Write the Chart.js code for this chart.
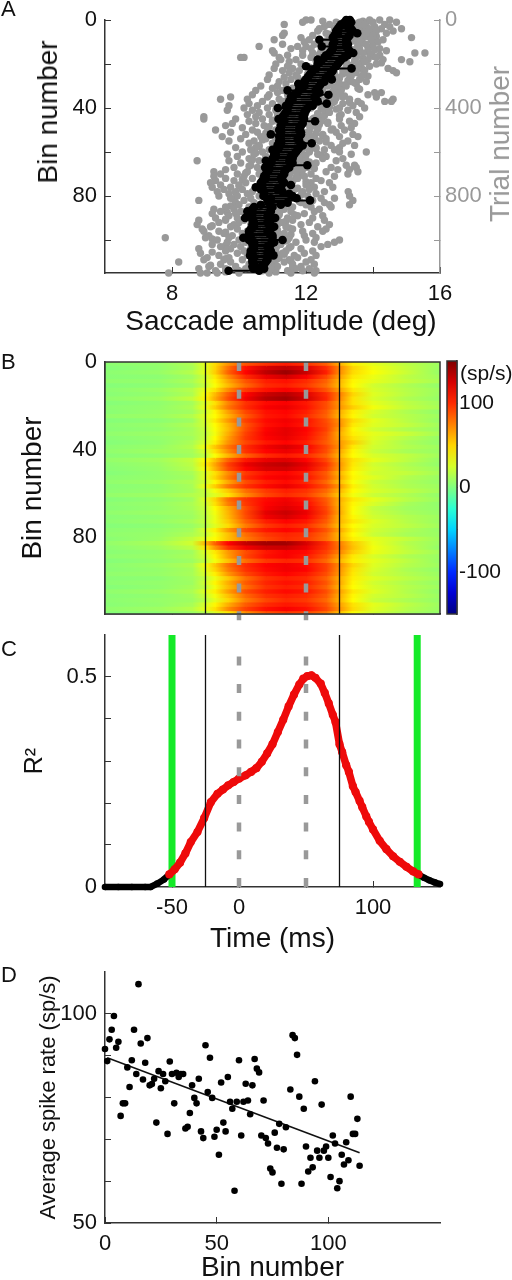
<!DOCTYPE html>
<html>
<head>
<meta charset="utf-8">
<title>Saccade amplitude and spike rate</title>
<script src="https://cdn.jsdelivr.net/npm/chart.js@4"></script>
<style>
  html,body{margin:0;background:#fff;width:512px;height:1280px;overflow:hidden}
  canvas{position:absolute;left:0}
  .txt{position:absolute;font-family:"Liberation Sans",Arial,sans-serif;color:#111;white-space:nowrap}
</style>
</head>
<body>
<canvas id="chartA" width="512" height="340" style="top:0"></canvas>
<canvas id="chartB" width="512" height="295" style="top:345px"></canvas>
<canvas id="chartBar" width="72" height="280" style="top:345px;left:440px"></canvas>
<canvas id="chartC" width="512" height="335" style="top:625px"></canvas>
<canvas id="chartD" width="512" height="325" style="top:960px"></canvas>
<div class="txt" style="left:1px;top:-4px;font-size:22px">A</div>
<div class="txt" style="left:1px;top:349px;font-size:22px">B</div>
<div class="txt" style="left:1px;top:636px;font-size:22px">C</div>
<div class="txt" style="left:1px;top:962px;font-size:22px">D</div>
<div class="txt" style="left:48px;top:112px;font-size:28px;transform:translate(-50%,-50%) rotate(-90deg)">Bin number</div>
<div class="txt" style="left:500px;top:144px;font-size:28px;color:#999;transform:translate(-50%,-50%) rotate(-90deg)">Trial number</div>
<div class="txt" style="left:281px;top:321px;font-size:28px;transform:translate(-50%,-50%)">Saccade amplitude (deg)</div>
<div class="txt" style="left:460px;top:361px;font-size:21px">(sp/s)</div>
<script>
// panel A: amplitude per trial, one list per bin (10 trials a bin)
const grayByBin = [
[12.0,12.15,13.3,13.9,14.2,14.5],[11.9,12.9,13.6,14.0,14.7],[11.35,12.7,13.1,13.75,14.35],[12.55,13.0,13.45,14.05,14.5],
[12.4,12.85,13.25,13.9,14.25,14.85],[12.35,13.1,13.6,14.1,14.6],[11.35,12.6,13.4,13.85,14.4],[11.3,12.2,12.95,13.5,14.0],
[11.85,12.7,13.2,13.7,15.15],[11.05,12.1,12.85,13.95,14.3],[11.95,12.4,13.3,13.65,14.15],[11.3,12.25,12.65,13.1,13.8],
[10.6,11.75,12.0,12.5,13.55,14.0],[11.55,12.15,13.0,13.6,14.2],[11.0,11.9,12.45,13.85,14.4],[11.05,12.2,13.25,13.7,15.25,15.55],
[11.45,11.9,12.75,13.95,14.2],[10.15,10.05,11.2,12.15,13.5,14.1],[11.25,11.7,12.5,13.85,14.3,14.85],[11.5,12.35,13.2,13.75,15.1],
[11.1,11.85,12.75,13.55,14.1],[11.45,11.95,12.3,13.2,13.9],[11.05,11.6,12.6,13.55,14.45],[11.3,11.8,12.15,13.1,13.75,14.6],
[11.5,12.3,12.85,13.5,14.7],[10.9,11.7,12.05,13.3,13.7],[11.35,11.75,12.5,13.0,13.65],[10.85,11.55,12.2,12.9,13.6],
[11.2,11.9,12.45,13.35,13.8],[11.4,11.85,12.7,13.0,13.5],[10.65,11.15,12.0,12.65,13.2],[11.0,11.6,12.25,12.9,13.55],
[10.5,11.3,11.85,12.5,13.05],[11.15,11.7,12.3,13.0,14.05,14.25],[10.4,10.9,11.45,12.15,12.75,13.85],[9.75,10.85,11.6,12.4,13.1,14.1],
[9.45,10.25,11.2,11.95,12.6,13.3,14.6],[10.7,11.35,12.1,12.85,13.55,14.55,14.35],[10.3,11.0,11.55,12.3,13.1,13.65],[9.7,10.55,11.25,12.0,12.7,13.4],
[10.15,10.85,11.4,12.15,13.0,13.75],[9.65,10.4,11.1,11.8,12.55,13.25],[10.6,11.25,12.0,12.7,13.5],[10.25,10.9,11.6,12.35,13.05],
[8.95,10.5,11.15,11.85,12.5,13.6],[8.95,9.9,10.7,11.4,12.2,13.0],[10.3,11.0,11.7,12.45,13.3],[9.8,10.5,11.2,11.9,12.65,13.45],
[9.6,10.75,11.45,12.1,13.05],[10.1,10.85,11.55,12.35,13.35],[9.3,10.4,11.1,11.85,12.75,13.15],[9.75,10.55,11.3,12.05,12.9],
[10.2,10.95,11.65,12.5,13.4],[9.5,10.65,11.45,12.2,13.0,13.55],[10.05,10.8,11.1,11.9,12.6],[9.7,10.45,11.3,12.4,13.25],
[10.3,11.0,11.75,12.15,13.1],[10.6,11.25,11.95,12.75,13.45],[9.9,10.5,11.4,12.3,13.0],[10.35,10.9,11.65,12.55,12.85],
[10.1,10.7,11.2,12.1,13.0,13.8],[9.65,10.45,11.5,12.35,13.35],[9.95,10.8,11.3,11.95,12.6],[10.3,11.05,11.8,12.5,13.1],
[9.7,10.6,11.25,12.0,12.9,8.75],[10.05,10.85,11.6,12.3],[10.35,11.0,11.7,12.2,13.2,13.45],[9.85,10.55,11.35,12.05,12.75,13.5],
[9.6,10.7,11.45,11.9,12.95,13.3],[9.25,10.25,11.1,11.7,12.6,13.55],[9.45,9.95,10.6,11.5,12.15,13.25],[9.25,10.15,10.9,11.25,11.95,12.85],
[9.6,10.4,11.05,11.75,12.3],[9.3,9.85,10.75,11.55,12.45],[9.15,10.2,10.9,11.4,12.15,12.7],[9.45,10.0,10.65,11.2,12.0],
[9.2,9.75,10.5,11.35,12.25,12.8],[9.55,10.1,10.95,11.65,12.1],[9.35,9.9,10.4,11.15,11.9,12.55,13.26],[9.7,10.25,10.8,11.5,12.3],
[9.4,9.95,10.6,11.3,12.05,13.3],[9.75,10.35,11.0,11.7,12.45,12.85],[8.8,10.15,10.85,11.45,12.2,13.4],[9.9,10.45,11.25,11.85,12.55],
[10.0,10.7,11.1,12.0,12.7,13.3],[9.6,10.3,10.95,11.6,12.15,12.75],[9.25,9.85,10.5,11.35,12.4],[9.45,10.05,10.85,11.55,12.25],
[9.2,9.9,10.6,11.2,11.95],[9.7,10.2,11.0,11.75,12.5],[9.3,9.95,10.4,11.45,12.2],[8.8,9.6,10.15,10.9,11.6,12.55],
[9.4,10.0,10.7,11.3,12.1],[8.75,9.85,10.35,11.15,11.85,12.7],[9.15,9.75,10.55,11.4,12.35],[8.9,9.95,10.8,11.6,12.6],
[8.95,9.4,10.25,11.05,11.9,12.5],[9.55,10.1,10.65,11.35,12.2],[9.1,9.8,10.45,11.2,11.95],[7.8,9.0,9.7,10.3,11.5,12.3],
[9.35,10.0,10.75,11.45,12.0,13.0],[9.65,10.2,10.95,11.7,12.25,12.85],[9.2,9.85,10.5,11.25,12.65],[9.45,10.05,10.7,11.55,12.45],
[8.8,9.75,10.35,11.1,11.85],[9.6,10.15,10.85,11.4,12.2],[8.85,9.95,10.5,11.3,11.95],[9.4,10.25,10.75,11.65,12.3],
[9.05,9.7,10.4,11.2,11.75],[8.95,9.55,10.1,10.95,11.5,12.15],[8.2,9.75,10.55,11.35,12.0],[9.45,10.3,10.85,11.6,12.25],
[9.1,9.9,10.6,11.15,11.85],[8.8,9.6,10.2,10.95,11.7,12.1],[9.3,10.0,10.7,11.45,11.9,12.3],[7.9,8.85,9.05,9.35,10.0,10.9,11.55,12.25]
];
// the denser trials close to the black band, half way between the bins above
const grayNearBand = [
[12.5,13.7],[13.55,13.8],[13.65],[12.9,13.8],[13.5,14.0],[13.75],[12.7,13.55],[13.85,14.1],[13.6],[12.6,13.45],
[13.7,14.0],[13.55],[12.55,13.85],[13.4,14.05],[13.6],[12.4,13.9],[13.5,14.0],[13.7],[12.3,13.45],[13.65,14.25],
[13.3],[12.1,13.6],[13.2,13.7],[13.45],[12.05,13.1],[13.35,13.85],[13.0],[11.9,13.25],[12.95,13.45],[13.15],
[11.75,12.85],[13.05,13.6],[12.8],[11.55,12.95],[12.7,13.15],[12.9],[11.45,12.6],[12.8,13.3],[12.5],[11.3,12.7],
[12.45,12.9],[12.6],[11.15,12.35],[12.55,13.0],[12.25],[11.0,12.45],[12.2,12.65],[12.4],[10.9,12.15],[12.35,12.8],
[12.1],[10.8,12.3],[12.05,12.5],[12.25],[10.7,12.0],[12.2,12.6],[11.95],[10.6,12.15],[11.9,12.3],[12.1],
[10.5,11.85],[12.0,12.45],[11.75],[10.4,11.95],[11.7,12.1],[11.9],[10.3,11.6],[11.8,12.25],[11.55],[10.2,11.75],
[11.5,11.9],[11.7],[10.1,11.45],[11.6,12.0],[11.4],[10.0,11.55],[11.3,11.75],[11.5],[9.9,11.25],[11.45,11.85],
[11.4],[9.85,11.2],[11.35,11.8],[11.15],[9.75,11.3],[11.1,11.55],[11.25],[9.65,11.05],[11.2,11.65],[11.0],
[9.6,11.15],[10.95,11.4],[11.1],[9.2,11.05],[10.9,11.5],[11.15],[9.6,11.0],[11.2,11.55],[10.95],[9.2,11.1],
[11.05,11.4],[10.9],[9.6,11.15],[11.0,11.5],[10.95],[9.2,11.1],[11.05,11.35],[10.9],[9.6,11.15],[11.0,11.55],
[10.95],[9.15,11.1],[11.05,11.6],[10.9],[9.6,11.1]
];
const blackLo = [
13.2,13.15,13.05,13.0,12.95,12.9,12.95,12.85,12.8,12.4,12.85,12.8,12.47,12.8,12.75,12.7,12.6,12.55,12.35,12.45,
12.35,12.0,12.3,12.2,12.15,12.1,12.05,12.0,11.95,11.77,11.95,11.8,11.45,11.75,11.65,11.55,11.6,11.5,11.5,11.4,
11.16,11.45,11.4,11.35,11.3,11.18,11.35,11.3,11.25,11.25,11.2,11.25,10.95,11.2,11.25,11.2,11.25,11.15,11.2,11.0,
11.1,11.05,11.1,11.0,10.8,10.95,10.9,10.78,10.9,10.85,10.8,10.75,10.8,10.7,10.65,10.7,10.5,10.65,10.75,10.75,
10.73,10.95,10.85,10.9,10.65,10.45,10.4,10.25,10.35,10.4,10.18,10.4,10.45,10.4,10.45,10.35,10.3,10.3,10.35,10.13,
10.3,10.45,10.4,10.45,10.45,10.35,10.4,10.33,10.45,10.4,10.4,10.45,10.4,10.43,9.69];
const blackHi = [
13.31,13.35,13.3,13.25,13.35,13.4,13.53,13.3,13.25,13.2,13.2,13.25,13.2,13.25,13.3,13.41,13.25,13.15,13.05,13.0,
12.95,12.9,13.36,12.8,12.75,12.7,12.6,12.77,12.55,12.45,12.4,12.35,12.3,12.4,12.67,12.25,12.3,12.35,12.62,12.2,
12.05,12.0,11.95,11.95,11.9,11.95,12.27,11.9,11.85,11.8,11.8,11.85,11.85,11.8,11.75,11.8,12.17,11.9,11.8,11.75,
11.7,11.65,11.55,11.6,11.5,11.6,12.04,11.5,11.4,11.35,11.35,11.3,11.25,11.3,11.35,11.55,11.25,11.15,11.3,11.5,
11.6,11.72,12.12,11.45,11.25,11.0,10.95,10.95,10.9,10.85,11.08,10.95,10.85,10.9,11.05,10.95,10.85,10.9,11.0,11.0,
11.3,11.05,10.95,10.85,10.9,10.95,10.85,11.03,10.85,10.85,10.8,10.75,10.68,10.75,10.6];

// panel B: rate (sp/s) per row, sampled at the times in heatTimes
const heatTimes = [-100,-60,-35,-25,-18,-8,5,20,35,50,65,75,85,100,125,150];
const heatBins = [1,3,5,7,9,11,13,15,17,19,21,23,25,27,29,31,33,35,37,39,41,43,45,47,49,51,53,55,57,59,61,63,65,67,69,71,73,75,77,79,81,83,85,87,89,91,93,95,97,99,101,103,105,107,109,111,113,115];
const heatRates = [
[4,6,14,30,48,70,88,98,105,98,85,62,42,30,18,9],
[2,5,12,28,50,80,108,125,132,122,100,74,50,34,20,8],
[4,7,16,30,52,84,112,132,142,128,104,72,48,36,22,7],
[3,4,10,24,44,72,100,118,126,114,92,66,44,32,18,10],
[5,6,13,26,40,64,88,104,108,100,84,60,40,30,20,12],
[2,4,9,22,36,58,82,100,104,96,80,58,38,24,14,6],
[4,8,16,32,46,72,96,108,114,106,88,66,44,26,16,9],
[3,6,14,36,58,86,112,128,134,122,100,76,50,28,17,8],
[5,9,20,40,62,90,116,134,140,126,102,74,46,26,14,7],
[2,5,11,28,46,74,98,110,114,106,90,68,46,30,18,10],
[4,6,13,32,52,78,100,114,118,108,90,70,52,34,20,12],
[3,7,10,24,40,66,92,108,112,104,86,62,42,26,14,6],
[6,8,15,28,38,60,86,106,110,100,84,60,40,24,16,9],
[2,4,9,26,44,68,94,110,116,108,90,70,48,30,17,7],
[4,7,14,24,38,60,88,108,114,106,92,72,44,28,20,10],
[3,5,11,22,36,58,90,112,120,112,94,66,40,24,14,8],
[5,8,12,20,34,62,94,114,120,110,90,62,42,30,22,11],
[3,6,10,22,38,66,96,112,118,108,88,64,46,28,16,7],
[2,5,13,26,42,70,92,106,112,104,86,68,52,26,13,6],
[4,7,15,34,54,78,100,116,124,114,92,70,44,24,15,9],
[5,9,12,26,46,72,98,112,118,110,90,64,40,22,12,8],
[3,5,10,20,36,60,84,100,106,100,84,60,38,26,19,10],
[6,10,20,38,56,84,106,118,122,112,92,66,46,30,18,7],
[4,8,18,42,64,94,118,128,132,120,98,70,44,24,14,6],
[3,7,16,36,60,90,112,124,126,116,94,68,42,26,16,9],
[2,6,12,28,46,72,96,108,112,104,86,60,38,24,20,11],
[4,6,10,30,50,76,100,112,116,108,88,64,40,28,15,8],
[5,8,14,24,40,64,90,104,110,102,82,58,36,22,13,7],
[3,5,12,32,52,78,98,110,118,108,90,68,42,24,14,9],
[4,6,11,22,34,54,80,96,104,98,82,60,38,26,18,10],
[6,9,15,20,28,46,72,92,100,94,76,54,34,22,14,6],
[2,5,10,28,50,80,98,110,116,106,86,62,44,30,17,8],
[4,7,13,24,46,76,96,112,118,110,88,60,40,26,12,5],
[3,6,12,22,38,62,90,114,122,114,92,62,38,20,10,6],
[5,8,10,20,34,60,92,120,128,118,94,64,36,22,12,7],
[3,5,9,18,32,58,90,116,124,114,90,60,40,24,15,9],
[4,7,12,20,32,54,84,104,112,106,86,60,44,28,16,8],
[2,4,8,16,28,48,76,96,104,98,80,56,38,26,18,10],
[4,6,11,26,42,68,92,106,112,106,88,64,42,24,14,7],
[5,7,14,22,34,56,80,96,102,98,82,58,38,22,12,8],
[3,8,20,30,38,56,76,92,100,96,80,60,42,30,20,9],
[6,12,24,58,84,112,130,140,140,124,100,76,54,32,16,8],
[4,9,18,44,68,98,116,126,128,118,98,78,56,34,18,6],
[3,6,10,28,44,68,90,106,114,110,94,74,52,32,20,10],
[5,7,12,24,40,66,92,108,114,106,88,66,44,26,14,8],
[2,5,9,20,34,56,80,96,102,98,82,60,42,30,18,7],
[4,8,14,34,54,80,100,112,116,110,94,72,50,28,16,9],
[3,6,11,30,50,76,98,110,116,112,94,70,46,26,13,6],
[5,7,12,26,42,68,92,106,112,106,90,68,44,24,15,8],
[3,4,10,20,32,54,80,98,104,100,84,62,42,28,18,10],
[4,6,9,24,40,62,86,102,108,104,88,64,40,24,14,7],
[2,5,11,20,34,58,80,98,104,100,84,60,38,26,16,9],
[5,8,13,28,42,66,90,104,110,106,90,66,44,28,15,6],
[3,5,10,22,34,56,82,98,104,100,86,62,40,24,17,8],
[4,7,9,18,30,50,76,92,100,96,82,60,38,22,13,7],
[3,6,12,26,40,62,86,100,106,102,88,66,46,30,18,9],
[5,9,16,30,46,72,94,108,114,108,92,70,48,28,16,8],
[2,4,8,16,26,44,70,88,96,92,78,56,36,24,12,6]
];

// panel C
const curveTime = [-100,-90,-80,-70,-66,-61,-56,-52,-48,-44,-40,-36,-31,-26,-21,-16,-12,-8,-4,0,5,9,13,17,21,25,29,33,37,41,45,48,51,54,57,61,64,67,70,72,75,77,80,82,85,87,90,92,95,97,100,105,110,115,120,125,130,134,138,142,146,150];
const curveR2 = [0,0,0,0,0,.008,.018,.03,.042,.058,.08,.107,.131,.164,.202,.222,.232,.242,.25,.258,.266,.274,.283,.298,.318,.34,.369,.398,.43,.458,.482,.496,.502,.504,.498,.484,.462,.437,.41,.393,.34,.321,.29,.274,.24,.226,.205,.19,.168,.155,.137,.11,.09,.073,.06,.048,.037,.03,.022,.016,.011,.007];
const greenTimes = [-50,133];
const blackTimes = [-25,75];
const dashTimes = [0,50];

// panel D
const rateBins = [0,1,2,3,4,5,6,7,8,9,10,11,12,13,14,15,16,17,18,19,20,21,22,23,24,25,26,27,28,29,30,31,32,33,34,35,36,37,38,39,40,41,42,43,44,45,46,47,48,49,50,51,52,53,54,55,56,57,58,59,60,61,62,63,64,65,66,67,68,69,70,71,72,73,74,75,76,77,78,79,80,81,83,84,85,86,87,88,89,90,91,92,93,94,95,96,97,98,99,100,101,102,103,104,105,106,107,108,109,110,111,112,113,114];
const rateValues = [91.6,88.7,93.9,96.2,99.5,91.9,93.3,75.6,78.6,78.6,87.2,82.5,88.9,96.2,85.6,107.1,92.9,84.3,88.3,94.2,82.9,83.2,84.5,74.0,86.3,82.2,85.6,83.9,71.3,88.6,85.6,78.6,85.9,84.9,85.6,85.6,72.6,73.0,76.3,82.9,79.9,78.6,84.5,71.9,70.3,92.5,81.3,89.5,79.9,70.6,72.3,66.3,83.6,74.0,71.9,84.9,79.0,77.3,57.7,79.0,88.9,70.9,79.0,83.3,79.3,76.0,82.9,89.2,86.9,86.0,70.9,79.3,70.3,69.0,63.0,62.1,71.6,68.0,73.7,59.4,67.6,72.9,81.9,94.9,94.2,90.2,80.2,59.4,77.3,68.3,62.3,65.6,63.3,83.9,67.3,65.6,78.3,67.3,68.3,65.6,61.0,70.9,69.0,58.3,60.0,66.3,64.0,69.3,65.0,80.2,71.3,71.3,74.9,63.7];
const fitBins = [1,114];
const fitRates = [89.5,66.8];

// tick lists
const binTicks = [0,20,40,60,80,100];
const binLabels = [0,40,80];
const trialTicks = [0,200,400,600,800,1000];
const trialLabels = [0,400,800];
const ampTicks = [8,10,12,14,16];
const ampLabels = [8,12,16];
const timeTicks = [-50,0,50,100];
const timeLabels = [-50,0,100];
const r2Ticks = [0,.1,.2,.3,.4,.5];
const r2Labels = [0,.5];
const barTicks = [-100,-50,0,50,100];
const barLabels = [-100,0,100];
const rateTicks = [50,60,70,80,90,100];
const rateLabels = [50,100];
const binAxisTicks = [0,50,100];

Chart.defaults.font.family = '"Liberation Sans", Arial, sans-serif';
Chart.defaults.color = '#111';
Chart.defaults.animation = false;
Chart.defaults.events = [];
Chart.defaults.plugins.legend.display = false;
Chart.defaults.plugins.tooltip.enabled = false;

const AXIS = '#333';
const GRAY = '#999';

// inward ticks, only some labelled, box size pinned so plot areas line up with the figure
function axis(ticks, labels, box, extra) {
  return Object.assign({
    type: 'linear',
    offset: false,
    grid: { drawOnChartArea: false, offset: false, tickLength: -6, color: extra.lineColor || AXIS, lineWidth: 1 },
    border: { color: extra.lineColor || AXIS, width: 1.5 },
    ticks: {
      autoSkip: false, maxRotation: 0, minRotation: 0,
      padding: extra.pad || 14,
      color: extra.textColor || '#111',
      font: { size: extra.size || 22 },
      callback: v => labels.includes(v) ? String(v) : ''
    },
    afterBuildTicks: s => { s.ticks = ticks.map(v => ({ value: v })); },
    afterFit: s => {
      if (s.isHorizontal()) s.height = box; else s.width = box;
      // label overhang would push the plot area away from the pinned spot
      s.paddingTop = s.paddingBottom = s.paddingLeft = s.paddingRight = 0;
    }
  }, extra.opts);
}

function vLine(t, y0, y1, color, width, dash, order) {
  return {
    type: 'scatter', showLine: true, clip: false, order,
    data: [{ x: t, y: y0 }, { x: t, y: y1 }],
    borderColor: color, borderWidth: width, borderDash: dash || [], pointRadius: 0
  };
}

const frame = {
  id: 'frame',
  afterDraw(c) {
    const a = c.chartArea, g = c.ctx;
    g.save(); g.strokeStyle = AXIS; g.lineWidth = 1.5;
    g.strokeRect(a.left, a.top, a.right - a.left, a.bottom - a.top);
    g.restore();
  }
};

function jet(v) {
  const t = (v + 150) / 300;
  const ch = d => Math.round(255 * Math.max(0, Math.min(1, 1.5 - Math.abs(4 * t - d))));
  return `rgb(${ch(3)},${ch(2)},${ch(1)})`;
}

// A
new Chart(document.getElementById('chartA'), {
  type: 'scatter',
  data: { datasets: [
    {
      label: 'bin spread', showLine: true, order: 2, borderColor: '#000', borderWidth: 2, pointRadius: 0,
      data: blackLo.flatMap((lo, b) => [{ x: lo, y: b }, { x: blackHi[b], y: b }, { x: NaN, y: b }])
    },
    {
      label: 'bin points', order: 1, backgroundColor: '#000', borderWidth: 0, pointRadius: 4.3, clip: false,
      data: blackLo.flatMap((lo, b) => [{ x: lo, y: b }, { x: blackHi[b], y: b }])
    },
    {
      label: 'trials', yAxisID: 'y2', order: 3, backgroundColor: GRAY, borderWidth: 0, pointRadius: 3.7, clip: false,
      data: grayByBin.flatMap((row, b) => row.map(a => ({ x: a, y: b * 10 })))
    },
    {
      label: 'trials near band', yAxisID: 'y2', order: 3, backgroundColor: GRAY, borderWidth: 0, pointRadius: 3.7, clip: false,
      data: grayNearBand.flatMap((row, b) => row.map(a => ({ x: a, y: b * 10 + 5 })))
    }
  ] },
  options: {
    responsive: false,
    layout: { padding: { top: 20, right: 0, left: 0, bottom: 0 } },
    scales: {
      x: axis(ampTicks, ampLabels, 67, { pad: 14, opts: { min: 6, max: 16 } }),
      y: axis(binTicks, binLabels, 105, { opts: { min: 0, max: 115, reverse: true } }),
      y2: axis(trialTicks, trialLabels, 72, { pad: 11, lineColor: GRAY, textColor: GRAY,
        opts: { position: 'right', min: 0, max: 1150, reverse: true } })
    }
  }
});

// B
const heatSets = heatTimes.slice(0, -1).map((t0, col) => ({
  type: 'bar', indexAxis: 'y', grouped: false, order: 5,
  barPercentage: 1, categoryPercentage: 1, inflateAmount: 0.6, borderWidth: 0,
  data: heatBins.map(b => ({ x: [t0, heatTimes[col + 1]], y: b })),
  backgroundColor(ctx) {
    if (ctx.type !== 'data') return 'transparent';
    const s = ctx.chart.scales.x;
    const x0 = s.getPixelForValue(t0), x1 = s.getPixelForValue(heatTimes[col + 1]);
    // first pass runs before layout, the scale has no pixels yet
    if (!isFinite(x0) || !isFinite(x1)) return 'transparent';
    const g = ctx.chart.ctx.createLinearGradient(x0, 0, x1, 0);
    g.addColorStop(0, jet(heatRates[ctx.dataIndex][col]));
    g.addColorStop(1, jet(heatRates[ctx.dataIndex][col + 1]));
    return g;
  }
}));
new Chart(document.getElementById('chartB'), {
  data: { datasets: heatSets.concat(
    blackTimes.map(t => vLine(t, 0, 115, '#111', 1.3, null, 2)),
    dashTimes.map(t => vLine(t, 0, 118.3, GRAY, 4.5, [9, 18.7], 1))
  ) },
  options: {
    responsive: false,
    layout: { padding: { top: 17, right: 72, left: 0, bottom: 0 } },
    scales: {
      x: axis(timeTicks, [], 26, { opts: { min: -100, max: 150 } }),
      y: axis(binTicks, binLabels, 105, { opts: { min: 0, max: 115, reverse: true,
        title: { display: true, text: 'Bin number', font: { size: 28 }, color: '#111', padding: { top: 16, bottom: 0 } } } })
    }
  },
  plugins: [frame]
});

// colour bar
new Chart(document.getElementById('chartBar'), {
  type: 'bar',
  data: { labels: ['rate'], datasets: [{
    data: [[-150, 150]], barPercentage: 1, categoryPercentage: 1, borderWidth: 0,
    backgroundColor(ctx) {
      if (ctx.type !== 'data') return 'transparent';
      const s = ctx.chart.scales.y;
      const y0 = s.getPixelForValue(-150), y1 = s.getPixelForValue(150);
      if (!isFinite(y0) || !isFinite(y1)) return 'transparent';
      const g = ctx.chart.ctx.createLinearGradient(0, y0, 0, y1);
      for (let v = -150; v <= 150; v += 25) g.addColorStop((v + 150) / 300, jet(v));
      return g;
    }
  }] },
  options: {
    responsive: false,
    layout: { padding: { top: 16, left: 7, right: 0, bottom: 11 } },
    scales: {
      x: { display: false },
      y: axis(barTicks, barLabels, 55, { pad: 8, size: 21, opts: { position: 'right', min: -150, max: 150 } })
    }
  },
  plugins: [frame]
});

// C
const curvePts = curveTime.map((t, i) => ({ x: t, y: curveR2[i] }));
new Chart(document.getElementById('chartC'), {
  type: 'scatter',
  data: { datasets: [
    ...greenTimes.map(t => vLine(t, 0, .6, '#14ea28', 7, null, 5)),
    ...blackTimes.map(t => vLine(t, 0, .6, '#111', 1.3, null, 1)),
    ...dashTimes.map(t => vLine(t, 0, .588, GRAY, 4.5, [9, 18.7], 2)),
    { label: 'R2 out', showLine: true, order: 4, clip: false, borderColor: '#000', backgroundColor: '#000', borderWidth: 6.5, pointBorderWidth: 0, pointRadius: 3.3,
      data: curvePts.filter(p => p.x <= -52) },
    { label: 'R2 out', showLine: true, order: 4, clip: false, borderColor: '#000', backgroundColor: '#000', borderWidth: 6.5, pointBorderWidth: 0, pointRadius: 3.3,
      data: curvePts.filter(p => p.x >= 134) },
    { label: 'R2', showLine: true, order: 3, clip: false, borderColor: '#ee0a0a', backgroundColor: '#ee0a0a', borderWidth: 7.5, pointBorderWidth: 0, pointRadius: 4.1,
      data: curvePts.filter(p => p.x >= -52 && p.x <= 134) }
  ] },
  options: {
    responsive: false,
    layout: { padding: { top: 10, right: 72, left: 0, bottom: 0 } },
    scales: {
      x: axis(timeTicks, timeLabels, 73, { pad: 14, opts: { min: -100, max: 150,
        title: { display: true, text: 'Time (ms)', font: { size: 28 }, color: '#111', padding: { top: 0, bottom: 4 } } } }),
      y: axis(r2Ticks, r2Labels, 105, { opts: { min: 0, max: .6,
        title: { display: true, text: 'R²', font: { size: 25 }, color: '#111', padding: { top: 20, bottom: 0 } } } })
    }
  }
});

// D
new Chart(document.getElementById('chartD'), {
  type: 'scatter',
  data: { datasets: [
    { label: 'fit', showLine: true, order: 2, borderColor: '#111', borderWidth: 1.5, pointRadius: 0,
      data: fitBins.map((b, i) => ({ x: b, y: fitRates[i] })) },
    { label: 'bins', order: 1, backgroundColor: '#000', borderWidth: 0, pointRadius: 3.3, clip: false,
      data: rateBins.map((b, i) => ({ x: b, y: rateValues[i] })) }
  ] },
  options: {
    responsive: false,
    layout: { padding: { top: 12, right: 72, left: 0, bottom: 0 } },
    scales: {
      x: axis(binAxisTicks, binAxisTicks, 62, { pad: 14, opts: { min: 0, max: 150,
        title: { display: true, text: 'Bin number', font: { size: 28 }, color: '#111', padding: { top: 0, bottom: 0 } } } }),
      y: axis(rateTicks, rateLabels, 105, { opts: { min: 50, max: 110,
        title: { display: true, text: 'Average spike rate (sp/s)', font: { size: 22 }, color: '#111', padding: { top: 36, bottom: 0 } } } })
    }
  }
});
</script>
</body>
</html>
